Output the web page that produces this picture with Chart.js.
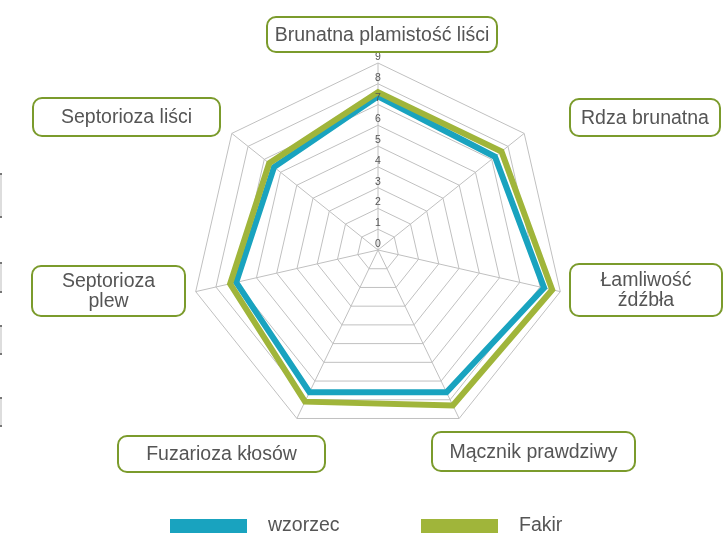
<!DOCTYPE html>
<html lang="pl">
<head>
<meta charset="utf-8">
<script src="https://cdn.jsdelivr.net/npm/chart.js@4"></script>
<style>
  html, body { margin: 0; padding: 0; background: #fff; }
  #wrap { position: relative; width: 727px; height: 533px; overflow: hidden; }
  .edge { position: absolute; left: 0; width: 2px; background: #ddd; border-top: 2px solid #777; border-bottom: 2px solid #777; box-sizing: border-box; }
</style>
</head>
<body>
<div id="wrap">
  <canvas id="wykresOdpornosc" width="727" height="533"></canvas>
  <div class="edge" style="top:173px;height:45px"></div>
  <div class="edge" style="top:262px;height:31px"></div>
  <div class="edge" style="top:325px;height:30px"></div>
  <div class="edge" style="top:397px;height:30px"></div>
</div>
<script>
// dane: odporność odmian (skala 1-9)
const cechy = [
  'Brunatna plamistość liści',
  'Rdza brunatna',
  ['Łamliwość', 'źdźbła'],
  'Mącznik prawdziwy',
  'Fuzarioza kłosów',
  ['Septorioza', 'plew'],
  'Septorioza liści'
];
const wzorzec = [7.4, 7.2, 8.2, 7.6, 7.6, 7.0, 6.4];
const fakir = [7.6, 7.6, 8.6, 8.3, 8.1, 7.3, 6.7];
const skala = [0, 1, 2, 3, 4, 5, 6, 7, 8, 9];

const kolorWzorzec = '#19a3bf';
const kolorFakir = '#a0b53a';

// ramki z nazwami cech (x, y, szer, wys)
const ramki = [
  [267, 17, 230, 35],
  [570, 99, 150, 37],
  [570, 264, 152, 52],
  [432, 432, 203, 39],
  [118, 436, 207, 36],
  [32, 266, 153, 50],
  [33, 98, 187, 38]
];

// legenda: x prostokąta dla każdej serii
const legendaX = [170, 421];

const ctxOdpornosc = document.getElementById('wykresOdpornosc');

const rysujOpisy = {
  id: 'rysujOpisy',
  afterDraw(chart) {
    const ctx = chart.ctx;
    const r = chart.scales.r;
    ctx.save();

    // etykiety skali
    ctx.font = '10.5px "Liberation Sans", Arial, sans-serif';
    ctx.fillStyle = '#555';
    ctx.textAlign = 'center';
    ctx.textBaseline = 'middle';
    skala.forEach(v => {
      const d = r.getDistanceFromCenterForValue(v);
      ctx.fillText(String(v), r.xCenter, r.yCenter - d - 6);
    });

    // ramki z nazwami
    ctx.font = '19.5px "Liberation Sans", Arial, sans-serif';
    chart.data.labels.forEach((lab, i) => {
      const [x, y, w, h] = ramki[i];
      ctx.beginPath();
      ctx.roundRect(x, y, w, h, 9);
      ctx.fillStyle = '#fff';
      ctx.fill();
      ctx.lineWidth = 2;
      ctx.strokeStyle = '#7b9b2c';
      ctx.stroke();
      ctx.fillStyle = '#555';
      const linie = Array.isArray(lab) ? lab : [lab];
      const lh = 20;
      linie.forEach((t, k) => {
        ctx.fillText(t, x + w / 2, y + h / 2 + (k - (linie.length - 1) / 2) * lh + 1);
      });
    });

    // legenda
    chart.data.datasets.forEach((ds, i) => {
      const x = legendaX[i];
      ctx.fillStyle = ds.borderColor;
      ctx.fillRect(x, 519, 77, 14);
      ctx.fillStyle = '#555';
      ctx.textAlign = 'left';
      ctx.textBaseline = 'alphabetic';
      ctx.fillText(ds.label, x + 98, 531);
    });

    ctx.restore();
  }
};

new Chart(ctxOdpornosc, {
  type: 'radar',
  data: {
    labels: cechy,
    datasets: [
      {
        label: 'wzorzec',
        data: wzorzec,
        borderColor: kolorWzorzec,
        backgroundColor: 'transparent',
        borderWidth: 6,
        borderJoinStyle: 'miter',
        pointRadius: 0,
        fill: false,
        order: 1
      },
      {
        label: 'Fakir',
        data: fakir,
        borderColor: kolorFakir,
        backgroundColor: 'transparent',
        borderWidth: 6,
        borderJoinStyle: 'miter',
        pointRadius: 0,
        fill: false,
        order: 0
      }
    ]
  },
  options: {
    responsive: false,
    animation: false,
    layout: { padding: { left: 191, right: 162, top: 63, bottom: 96 } },
    plugins: {
      legend: { display: false },
      tooltip: { enabled: false }
    },
    scales: {
      r: {
        min: 0,
        max: 9,
        ticks: { display: false, stepSize: 1 },
        pointLabels: { display: false },
        grid: { color: '#c0c0c0', lineWidth: 1 },
        angleLines: { color: '#c0c0c0', lineWidth: 1 }
      }
    }
  },
  plugins: [rysujOpisy]
});
</script>
</body>
</html>
